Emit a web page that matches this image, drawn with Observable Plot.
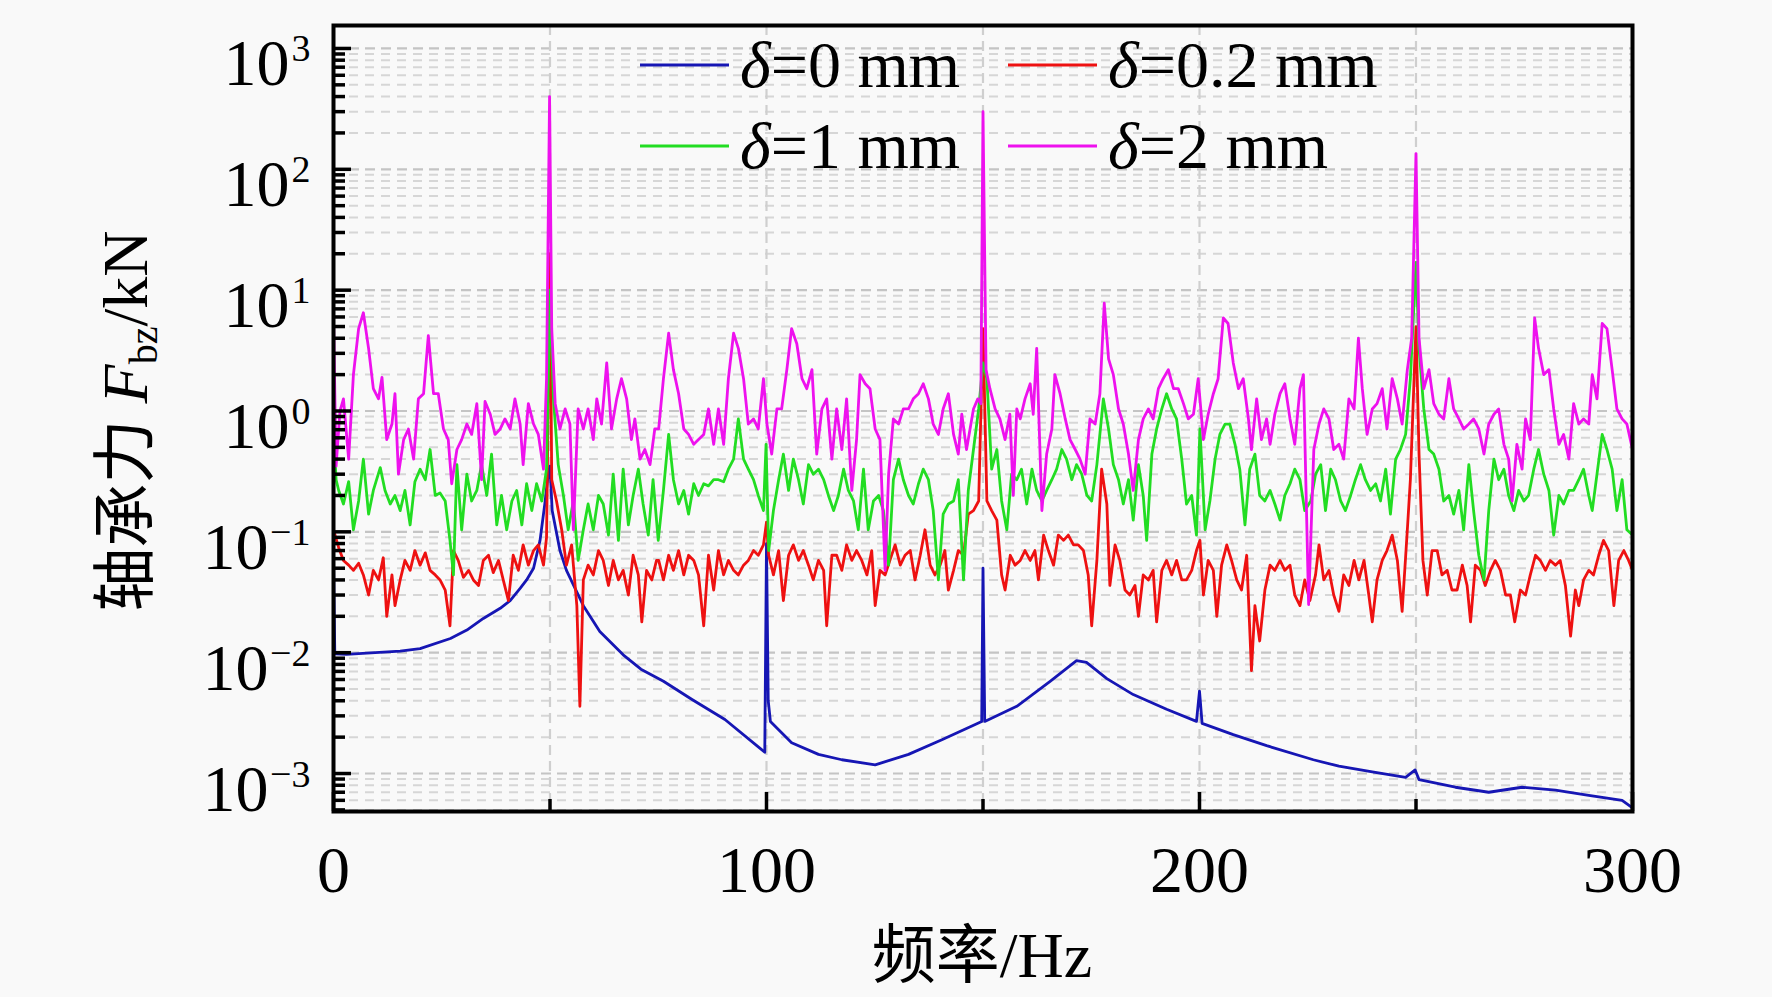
<!DOCTYPE html>
<html><head><meta charset="utf-8">
<script src="https://cdn.jsdelivr.net/npm/d3@7"></script>
<script src="https://cdn.jsdelivr.net/npm/@observablehq/plot@0.6"></script>
<style>
html,body{margin:0;padding:0;background:#f9f9f9;}
#chart{width:1772px;height:997px;overflow:hidden;}
</style></head><body><div id="chart"></div>
<script>
// ---------- data (frequency in Hz, bearing force in kN) ----------
const blueHz = [0.0,0.3,3,7.7,15.4,20,27,30.8,34.6,38.5,40.8,43.1,44.6,46.2,47.7,48.8,49.6,50.0,50.5,52.3,53.8,57.7,61.5,66.9,71,76.2,82.8,90.4,98.1,99.6,100.0,100.4,100.9,105.8,112,117.4,125.1,132.8,140.5,148.2,149.7,150.0,150.4,157.8,165.5,171.6,173.9,178.6,184.7,192.4,199.3,200.0,200.6,207.8,215.5,226.3,232.2,239.9,247.6,249.8,250.7,259.1,266.8,274.5,282.2,289.9,297.6,300.0];
const blueKN = [0.06,0.0098,0.0097,0.0099,0.0103,0.0108,0.0131,0.0154,0.0192,0.0233,0.027,0.034,0.040,0.050,0.085,0.17,0.3,0.35,0.15,0.070,0.048,0.0245,0.015,0.0096,0.0073,0.0058,0.0041,0.0028,0.00166,0.0015,0.08,0.004,0.0027,0.0018,0.00144,0.0013,0.00118,0.00144,0.0019,0.00255,0.0027,0.05,0.0027,0.0036,0.0058,0.0086,0.0083,0.0061,0.0045,0.0034,0.0027,0.0048,0.0026,0.0021,0.0017,0.0013,0.00115,0.00103,0.00093,0.00107,0.00089,0.00077,0.0007,0.00077,0.00073,0.00066,0.0006,0.00052];

const redHz = [0.0,1.2,2.3,3.5,4.6,5.8,6.9,8.1,9.2,10.4,11.5,12.3,13.5,14.2,15.4,16.5,17.7,18.8,20.0,21.2,22.3,23.5,24.6,25.8,26.9,27.7,28.8,30.0,31.2,32.3,33.5,34.6,35.8,36.9,38.1,39.2,40.4,41.5,42.7,43.8,45.0,46.2,47.3,48.5,49.2,50.0,50.4,51.5,52.7,53.8,55.0,56.2,56.9,57.7,58.8,60.0,61.2,62.3,63.5,64.6,65.8,66.9,68.1,69.2,70.4,71.2,72.3,73.5,74.6,
75.1,76.2,77.4,78.5,79.7,80.9,82.0,83.2,84.3,85.5,86.6,87.8,88.9,90.1,91.2,92.4,93.5,94.7,95.8,97.0,98.1,99.3,100.0,100.5,101.6,102.8,103.9,105.1,106.2,107.4,108.5,109.7,110.8,112.0,113.2,113.9,115.1,116.2,117.4,118.5,119.7,120.8,122.0,123.2,124.3,125.1,126.2,127.4,128.5,129.7,130.9,132.0,133.2,134.3,135.5,136.6,137.8,138.9,140.1,141.2,142.0,143.2,144.3,145.5,146.6,147.8,149.0,150.0,
150.9,152.0,153.2,154.3,155.1,156.3,157.4,158.6,159.7,160.9,162.0,162.8,164.0,165.1,166.3,167.4,168.6,169.7,170.9,172.0,173.2,174.3,175.1,176.3,177.4,178.6,179.3,180.5,181.6,182.8,183.9,185.1,185.9,187.0,188.2,189.3,190.1,191.3,192.4,193.6,194.7,195.9,197.0,198.2,199.3,200.1,200.9,202.0,203.2,204.0,205.1,206.3,207.4,208.6,209.7,210.9,212.0,212.8,213.9,215.1,216.3,217.4,218.6,219.7,220.9,222.0,223.2,224.3,225.5,
226.8,227.6,228.7,229.9,231.0,232.2,233.3,234.5,235.7,236.8,238.0,239.1,239.9,241.0,242.2,243.3,244.5,245.7,246.8,248.0,248.7,250.0,250.7,251.6,252.6,253.7,254.9,256.0,257.2,258.3,259.5,260.7,261.8,262.6,263.7,264.9,266.0,267.2,268.3,269.5,270.7,271.8,272.8,274.1,275.3,276.4,277.6,278.7,279.9,281.0,282.2,283.3,284.5,285.7,286.8,287.6,288.7,289.9,291.0,292.2,293.3,294.5,295.7,296.8,298.0,299.1,300.0];
const redKN = [0.104,0.074,0.058,0.053,0.048,0.055,0.044,0.030,0.048,0.040,0.061,0.020,0.044,0.0245,0.040,0.058,0.048,0.070,0.053,0.067,0.048,0.044,0.040,0.033,0.0167,0.070,0.058,0.042,0.048,0.040,0.036,0.058,0.064,0.046,0.058,0.040,0.027,0.064,0.048,0.078,0.053,0.070,0.078,0.053,0.09,20,0.27,0.18,0.104,0.053,0.078,0.0245,0.0036,0.040,0.053,0.044,0.070,0.058,0.036,0.058,0.040,0.048,0.030,0.064,0.044,0.018,0.048,0.040,0.058,
0.058,0.040,0.064,0.048,0.070,0.044,0.064,0.058,0.044,0.0167,0.064,0.033,0.070,0.044,0.058,0.048,0.044,0.053,0.058,0.070,0.064,0.078,0.12,0.064,0.044,0.070,0.027,0.064,0.078,0.058,0.070,0.053,0.040,0.058,0.048,0.0167,0.064,0.064,0.048,0.078,0.058,0.070,0.058,0.044,0.070,0.0245,0.048,0.044,0.058,0.078,0.053,0.064,0.070,0.040,0.064,0.104,0.053,0.044,0.053,0.070,0.033,0.048,0.070,0.064,0.14,0.15,0.18,4.8,
0.18,0.15,0.125,0.044,0.033,0.064,0.053,0.058,0.070,0.058,0.070,0.040,0.094,0.070,0.053,0.094,0.085,0.094,0.078,0.078,0.070,0.044,0.0167,0.058,0.33,0.17,0.036,0.078,0.058,0.033,0.030,0.036,0.020,0.044,0.040,0.048,0.018,0.048,0.058,0.044,0.058,0.040,0.040,0.048,0.070,0.085,0.030,0.058,0.048,0.020,0.053,0.078,0.058,0.040,0.033,0.064,0.0071,0.0245,0.0125,0.033,0.053,0.048,0.058,0.048,0.053,0.030,0.0245,0.040,0.027,
0.044,0.078,0.040,0.048,0.030,0.022,0.044,0.036,0.058,0.040,0.058,0.030,0.018,0.040,0.058,0.070,0.094,0.058,0.022,0.104,0.27,5.0,0.44,0.058,0.030,0.070,0.070,0.044,0.048,0.033,0.033,0.053,0.036,0.018,0.053,0.048,0.036,0.048,0.058,0.048,0.030,0.030,0.018,0.033,0.030,0.044,0.064,0.058,0.048,0.058,0.053,0.058,0.036,0.0137,0.033,0.0245,0.040,0.048,0.044,0.064,0.085,0.070,0.0245,0.058,0.070,0.058,0.048];

const greenHz = [0.0,0.6,1.2,2.3,3.5,4.6,5.8,6.9,8.1,9.2,10.8,11.9,13.1,14.2,15.4,16.5,17.7,18.8,20.0,21.2,22.3,23.5,24.6,25.8,26.9,27.7,28.5,29.6,30.8,31.9,33.1,34.2,35.4,36.5,37.7,38.8,40.0,41.2,42.3,43.5,44.6,45.8,46.9,48.1,49.2,50.0,50.8,51.9,53.1,54.2,55.4,56.5,57.7,58.8,60.0,61.2,62.3,63.5,64.6,65.8,66.9,68.1,69.2,70.4,71.5,72.7,73.8,75.0,
76.2,77.4,78.5,79.7,80.9,82.0,83.2,84.3,85.5,86.6,87.8,88.9,90.1,91.2,92.4,93.5,94.7,95.8,97.0,98.1,99.3,99.9,100.5,101.6,102.8,103.9,105.1,106.2,107.4,108.5,109.7,110.8,112.0,113.2,114.3,115.5,116.6,117.8,118.9,120.1,121.2,122.4,123.5,124.7,125.9,127.0,128.2,129.3,130.5,131.6,132.8,133.9,135.1,136.2,137.4,138.5,139.7,140.8,142.0,143.2,144.3,145.5,146.6,147.8,149.0,150.0,
150.9,152.0,153.2,154.3,155.5,156.6,157.8,158.9,160.1,161.3,162.4,163.6,164.7,165.9,167.0,168.2,169.3,170.5,171.6,172.8,174.0,175.1,176.3,177.8,179.0,180.1,181.3,182.4,183.6,184.7,185.9,187.0,187.8,189.0,190.1,191.3,192.4,193.6,194.7,195.9,197.0,198.2,199.3,200.1,201.3,202.4,203.6,204.7,205.9,207.0,208.2,209.3,210.5,211.6,212.8,213.9,215.1,216.3,217.4,218.6,219.7,220.9,222.0,223.2,224.3,
225.7,226.8,228.0,229.1,230.3,231.4,232.6,233.7,234.9,236.0,237.2,238.3,239.5,240.7,241.8,243.0,244.1,245.3,246.4,247.6,248.7,250.0,250.7,251.8,253.0,254.1,255.3,256.4,257.6,258.7,259.9,261.0,262.2,263.3,264.5,265.7,266.8,268.0,269.1,270.3,271.4,272.6,273.7,274.9,276.0,277.2,278.3,279.5,280.7,281.8,283.0,284.1,285.3,286.4,287.6,288.7,289.9,290.7,291.8,293.0,294.1,295.3,296.4,297.6,298.7,300.0];
const greenKN = [0.7,0.27,0.22,0.17,0.26,0.104,0.18,0.40,0.14,0.22,0.34,0.22,0.17,0.20,0.15,0.22,0.114,0.26,0.33,0.27,0.48,0.20,0.21,0.18,0.085,0.044,0.36,0.104,0.30,0.18,0.22,0.36,0.20,0.44,0.114,0.20,0.104,0.18,0.22,0.114,0.25,0.15,0.25,0.18,0.33,10,1.26,0.36,0.20,0.104,0.18,0.058,0.104,0.17,0.104,0.20,0.17,0.094,0.30,0.085,0.33,0.114,0.20,0.33,0.17,0.094,0.27,0.085,
0.22,0.64,0.27,0.17,0.22,0.14,0.25,0.20,0.25,0.24,0.27,0.27,0.26,0.33,0.40,0.86,0.40,0.33,0.27,0.20,0.15,0.53,0.070,0.15,0.27,0.44,0.22,0.40,0.27,0.17,0.36,0.30,0.33,0.27,0.20,0.15,0.20,0.33,0.22,0.18,0.104,0.33,0.104,0.18,0.20,0.15,0.053,0.27,0.40,0.27,0.20,0.17,0.25,0.33,0.27,0.15,0.040,0.14,0.17,0.18,0.27,0.040,0.22,0.48,1.04,2.5,
1.85,0.33,0.48,0.18,0.104,0.30,0.27,0.33,0.17,0.33,0.22,0.18,0.22,0.27,0.33,0.48,0.40,0.27,0.36,0.30,0.20,0.18,0.36,1.26,0.71,0.36,0.27,0.17,0.27,0.125,0.36,0.20,0.085,0.44,0.71,1.04,1.39,1.04,0.86,0.40,0.17,0.20,0.094,0.71,0.104,0.18,0.40,0.64,0.78,0.78,0.53,0.33,0.114,0.33,0.44,0.20,0.18,0.22,0.17,0.125,0.20,0.25,0.33,0.27,0.15,
0.18,0.30,0.36,0.15,0.33,0.27,0.18,0.15,0.20,0.27,0.36,0.27,0.22,0.25,0.18,0.33,0.14,0.40,0.48,0.64,1.85,17,3.3,1.04,0.48,0.44,0.33,0.18,0.20,0.14,0.22,0.104,0.36,0.15,0.064,0.040,0.15,0.40,0.27,0.33,0.20,0.15,0.22,0.18,0.20,0.33,0.48,0.30,0.22,0.094,0.20,0.17,0.22,0.22,0.27,0.33,0.20,0.15,0.30,0.64,0.48,0.33,0.15,0.27,0.104,0.094];

const pinkHz = [0.0,0.6,1.5,2.3,3.5,4.6,5.8,6.9,8.1,9.2,10.4,11.2,12.3,13.5,14.2,15.0,16.2,17.3,18.5,19.6,20.8,21.9,23.1,24.2,25.4,26.5,27.3,28.5,29.6,30.8,31.9,33.1,34.2,35.0,36.2,37.3,38.5,39.6,40.8,41.9,43.1,43.8,45.0,46.2,47.3,48.5,49.2,49.9,50.4,51.2,52.3,53.5,54.6,55.4,56.5,57.7,58.8,60.0,60.8,61.9,63.1,64.2,65.4,66.5,67.7,68.8,69.6,70.8,71.9,73.1,74.2,
75.1,76.2,77.4,78.5,79.7,80.9,82.0,83.2,84.3,85.5,86.6,87.8,88.9,90.1,91.2,92.4,93.5,94.7,95.8,97.0,98.1,99.3,100.1,101.2,102.4,103.5,104.7,105.8,107.0,108.2,109.3,110.5,111.6,112.8,113.9,115.1,116.2,117.4,118.5,119.7,120.8,121.6,122.8,123.9,125.1,126.2,127.4,128.2,129.3,130.5,131.6,132.8,133.9,135.1,136.2,137.4,138.5,139.7,140.8,142.0,143.2,144.3,145.1,146.2,147.8,148.8,149.5,150.0,
150.7,151.6,152.8,153.9,155.1,156.2,157.0,157.8,158.6,159.7,160.9,161.6,162.4,163.6,164.7,165.9,166.6,167.8,169.0,170.1,171.3,172.4,173.6,174.7,175.9,177.0,178.0,179.0,180.1,181.3,182.4,183.6,184.7,185.9,187.0,188.2,189.3,190.5,191.6,192.8,194.0,195.1,196.3,197.4,198.6,199.7,200.9,202.0,203.2,204.3,205.5,206.6,207.8,209.0,210.1,211.3,212.0,213.2,214.3,215.5,216.3,217.4,218.6,219.7,220.9,222.0,223.2,224.0,225.2,
226.4,227.6,228.7,229.9,231.0,232.2,233.3,234.5,235.7,236.7,237.6,238.7,239.9,241.0,242.2,243.3,244.5,245.7,246.8,248.0,249.0,250.0,250.7,251.8,253.0,254.1,255.3,256.4,257.6,258.7,259.9,261.0,262.2,263.3,264.5,265.7,266.8,268.0,269.1,270.3,271.4,272.2,273.3,274.5,275.3,276.4,277.4,278.3,279.5,280.7,281.8,283.0,284.1,285.3,286.4,287.6,288.7,289.9,290.7,291.8,293.0,294.1,295.3,296.4,297.6,298.7,300.0];
const pinkKN = [6,0.35,1.0,1.26,0.40,2.0,4.8,6.5,3.3,1.53,1.26,1.9,0.58,0.78,1.39,0.30,0.58,0.71,0.40,1.26,1.39,4.2,1.39,1.39,0.71,0.58,0.25,0.48,0.58,0.78,0.64,1.15,0.27,1.2,0.94,0.64,0.71,0.86,0.71,1.26,0.78,0.36,1.15,0.78,0.64,0.33,1.85,400,4.8,1.15,0.71,1.04,0.78,0.104,1.04,0.71,1.04,0.58,1.26,0.78,2.5,0.71,1.26,1.85,1.26,0.58,0.86,0.40,0.48,0.36,0.71,
0.71,1.85,4.4,2.2,1.39,0.71,0.64,0.53,0.58,0.64,1.04,0.53,1.04,0.53,1.85,4.4,3.3,1.85,0.78,0.86,0.71,1.85,0.78,0.44,1.04,1.04,2.2,4.8,3.6,1.85,1.53,2.2,0.44,1.04,1.26,0.40,1.04,0.48,1.26,0.22,0.58,2.0,1.68,1.53,0.71,0.58,0.048,0.30,0.86,0.78,1.04,1.04,1.26,1.39,1.68,1.26,0.78,0.64,1.04,1.39,0.64,0.44,0.94,0.48,1.04,1.26,1.15,300,
2.2,1.53,1.04,0.86,0.58,0.94,0.20,1.04,0.86,1.26,1.68,0.94,3.3,0.15,0.44,0.71,2.0,1.39,0.86,0.58,0.48,0.40,0.30,0.86,0.78,1.39,7.8,2.7,2.0,1.04,0.78,0.44,0.22,0.58,0.86,1.04,0.86,1.53,1.85,2.2,1.53,1.53,1.15,0.86,0.94,1.85,0.58,0.94,1.39,1.85,5.9,5.3,2.5,1.53,1.85,0.86,0.48,1.26,0.58,0.86,0.53,0.94,1.39,1.68,0.86,0.53,1.53,2.0,0.025,
0.48,0.78,1.04,0.86,0.48,0.53,0.40,1.26,1.04,4.0,1.53,0.64,1.04,1.15,1.53,0.71,1.85,1.26,0.78,2.2,4.0,135,4.0,1.53,2.2,1.15,0.94,0.86,1.85,1.04,0.86,0.71,0.78,0.86,0.71,0.44,0.78,0.94,1.04,0.53,0.40,0.18,0.53,0.33,0.86,0.58,5.9,3.3,2.0,2.2,1.04,0.53,0.64,0.40,1.15,0.78,0.86,0.78,2.0,1.26,5.3,4.8,2.2,1.04,0.86,0.78,0.48];

const seriesNames  = ["δ=0 mm", "δ=0.2 mm", "δ=1 mm", "δ=2 mm"];
const seriesColors = ["#1616b4", "#ee1111", "#22dd22", "#ee11ee"];

const xTickLabels = [0, 100, 200, 300];
const xMinorTicks = [50, 150, 250];
const xGrid = [50, 100, 150, 200, 250];
const yTickValues = [1e-3, 1e-2, 1e-1, 1e0, 1e1, 1e2, 1e3];
const yTickExps   = ["−3", "−2", "−1", "0", "1", "2", "3"];

// ---------- layout ----------
const W = 1772, H = 997, ML = 333, MR = 140, MT = 25, MB = 186;
const FW = W - ML - MR, FH = H - MT - MB;
const yDomain = [4.85e-4, 1549];
const FONT = "'Liberation Serif', 'Times New Roman', 'Noto Sans CJK SC', serif";

const yMinor = [];
for (let k = -4; k <= 2; k++) for (let m = 2; m <= 9; m++) {
  const v = m * Math.pow(10, k);
  if (v >= yDomain[0] && v < yDomain[1]) yMinor.push(v);
}

const seriesData = [
  blueHz.map((f, i) => ({f, v: blueKN[i]})),
  redHz.map((f, i) => ({f, v: redKN[i]})),
  greenHz.map((f, i) => ({f, v: greenKN[i]})),
  pinkHz.map((f, i) => ({f, v: pinkKN[i]}))
];
const yTicks = yTickValues.map((v, i) => ({v, e: yTickExps[i], neg: yTickExps[i].startsWith("−")}));

const plot = Plot.plot({
  width: W, height: H,
  marginLeft: ML, marginRight: MR, marginTop: MT, marginBottom: MB,
  x: {domain: [0, 300], axis: null},
  y: {type: "log", domain: yDomain, axis: null},
  style: {background: "#f9f9f9", fontFamily: FONT, color: "black", overflow: "visible"},
  marks: [
    Plot.ruleY(yMinor, {stroke: "#d6d6d6", strokeWidth: 2, strokeDasharray: "9,7"}),
    Plot.ruleY(yTickValues, {stroke: "#c4c4c4", strokeWidth: 2.2, strokeDasharray: "10,6"}),
    Plot.ruleX(xGrid, {stroke: "#cfcfcf", strokeWidth: 2.2, strokeDasharray: "10,6"}),
    ...seriesData.map((d, i) => Plot.line(d, {x: "f", y: "v", stroke: seriesColors[i], strokeWidth: 2.8, strokeLinejoin: "round"})),
    Plot.tickY(yMinor, {stroke: "black", strokeWidth: 3.5, insetRight: FW - 12}),
    Plot.tickY(yTickValues, {stroke: "black", strokeWidth: 3.5, insetRight: FW - 18}),
    Plot.tickX(xMinorTicks, {stroke: "black", strokeWidth: 3.5, insetTop: FH - 12}),
    Plot.tickX(xTickLabels, {stroke: "black", strokeWidth: 3.5, insetTop: FH - 19}),
    Plot.frame({stroke: "black", strokeWidth: 4}),
    Plot.text(yTicks.filter(d => !d.neg), {y: "v", text: () => "10", frameAnchor: "left", textAnchor: "end", lineAnchor: "bottom", dx: -44, dy: 37, fontSize: 66, fill: "black"}),
    Plot.text(yTicks.filter(d => d.neg), {y: "v", text: () => "10", frameAnchor: "left", textAnchor: "end", lineAnchor: "bottom", dx: -65, dy: 37, fontSize: 66, fill: "black"}),
    Plot.text(yTicks, {y: "v", text: "e", frameAnchor: "left", textAnchor: "end", lineAnchor: "bottom", dx: -23, dy: 13, fontSize: 38, fill: "black"}),
    Plot.text(xTickLabels, {x: d => d, text: d => String(d), frameAnchor: "bottom", lineAnchor: "bottom", dy: 80, fontSize: 66, fill: "black"})
  ]
});

const svg = d3.select(plot);
// y axis title
const yl = svg.append("text")
  .attr("transform", "translate(147,421) rotate(-90)")
  .attr("text-anchor", "middle").attr("font-size", 64).attr("fill", "black")
  .style("font-family", FONT);
yl.append("tspan").text("轴承力 ");
yl.append("tspan").attr("font-style", "italic").text("F");
yl.append("tspan").attr("font-size", 40).attr("dy", 10).text("bz");
yl.append("tspan").attr("dy", -10).text("/kN");
// x axis title
svg.append("text").attr("x", 982).attr("y", 977).attr("text-anchor", "middle")
  .attr("font-size", 64).attr("fill", "black").style("font-family", FONT).text("频率/Hz");
// legend
const legendPos = [[640, 65], [1008, 65], [640, 146], [1008, 146]];
seriesNames.forEach((name, i) => {
  const [lx, ly] = legendPos[i];
  svg.append("line").attr("x1", lx).attr("x2", lx + 89).attr("y1", ly).attr("y2", ly)
    .attr("stroke", seriesColors[i]).attr("stroke-width", 3);
  const t = svg.append("text").attr("x", lx + 100).attr("y", ly + 22)
    .attr("text-anchor", "start")
    .attr("font-size", 66).attr("fill", "black").style("font-family", FONT);
  t.append("tspan").attr("font-style", "italic").text(name.slice(0, 1));
  t.append("tspan").text(name.slice(1));
});

document.getElementById("chart").appendChild(plot);
</script>
</body></html>
